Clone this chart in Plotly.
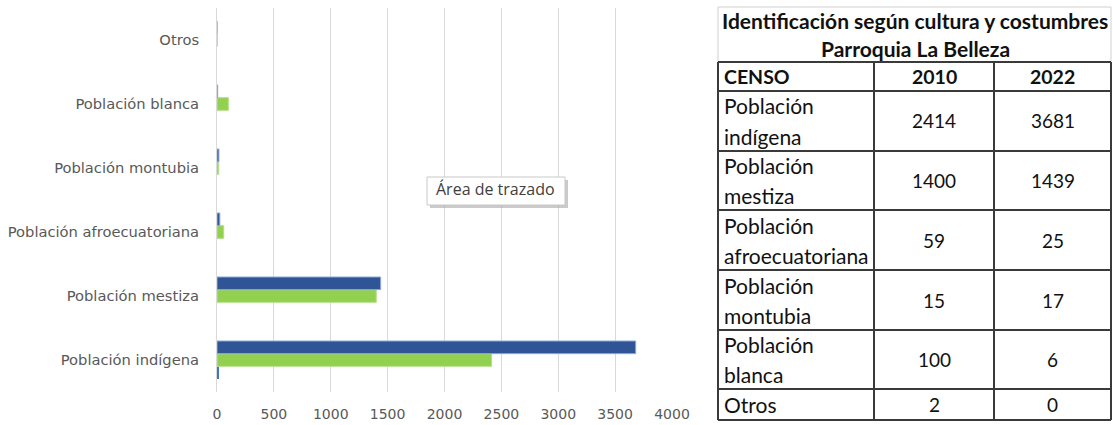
import plotly.graph_objects as go

# Census categories (bottom to top on the bar chart)
categorias = ["Población indígena", "Población mestiza", "Población afroecuatoriana",
              "Población montubia", "Población blanca", "Otros"]
censo_2010 = [2414, 1400, 59, 15, 100, 2]
censo_2022 = [3681, 1439, 25, 17, 6, 0]
serie_extra = [12, 0, 0, 0, 0, 0]

# Table rows (label split over two lines where the cell wraps)
filas_tabla = [("Población", "indígena"), ("Población", "mestiza"),
               ("Población", "afroecuatoriana"), ("Población", "montubia"),
               ("Población", "blanca"), ("Otros", None)]
titulo_tabla = ["Identificación según cultura y costumbres", "Parroquia La Belleza"]
encabezados = ["CENSO", "2010", "2022"]

W, H = 1113, 425


def px(x):
    return x / W


def py(y):
    return 1 - y / H


def note(x, y, text, font, xanchor="center"):
    return dict(xref="paper", yref="paper", x=px(x), y=py(y), xanchor=xanchor,
                yanchor="middle", text=text, showarrow=False, font=font)


fig = go.Figure()
fig.add_trace(go.Bar(y=categorias, x=serie_extra, orientation="h", name="Serie 3",
                     marker=dict(color="#4472C4", line=dict(width=0))))
fig.add_trace(go.Bar(y=categorias, x=censo_2010, orientation="h", name="2010",
                     marker=dict(color="#92D050", line=dict(color="#B5E08A", width=1))))
fig.add_trace(go.Bar(y=categorias, x=censo_2022, orientation="h", name="2022",
                     marker=dict(color="#2F5597", line=dict(color="#8FAADC", width=1))))

cat_font = dict(family="DejaVu Sans, sans-serif", size=14.7, color="#595959")
num_font = dict(family="DejaVu Sans, sans-serif", size=14, color="#595959")

fig.update_layout(
    width=W, height=H, autosize=False,
    margin=dict(l=0, r=0, t=0, b=0, pad=0),
    paper_bgcolor="white", plot_bgcolor="white",
    barmode="group", bargap=0.406, bargroupgap=0,
    showlegend=False,
    xaxis=dict(domain=[px(217), px(672)], range=[0, 4000], dtick=500,
               showgrid=True, gridcolor="#D9D9D9", gridwidth=1,
               zeroline=False, showline=False, ticks="", automargin=False,
               tickfont=num_font, ticklabelstandoff=12, fixedrange=True),
    yaxis=dict(domain=[py(392), py(8)], categoryorder="array", categoryarray=categorias,
               showline=True, linecolor="#D9D9D9", linewidth=1,
               showgrid=False, ticks="", tickfont=cat_font, automargin=False,
               ticklabelstandoff=14, fixedrange=True),
)

shapes = []
annotations = []

# Tooltip box over the plot area
shapes.append(dict(type="rect", xref="paper", yref="paper",
                   x0=px(430), x1=px(568), y0=py(208), y1=py(180),
                   fillcolor="#A6A6A6", line=dict(width=0), opacity=0.6))
shapes.append(dict(type="rect", xref="paper", yref="paper",
                   x0=px(427), x1=px(565), y0=py(205), y1=py(177),
                   fillcolor="white", line=dict(color="#C8C8C8", width=1)))
annotations.append(note(495, 189, "Área de trazado",
                        dict(family="Open Sans, sans-serif", size=16, color="#404040")))

# Table grid
x0, c1, c2, x3 = 718, 874, 994, 1111
thin = dict(color="#D0D0D0", width=1)
dark = dict(color="#3A3A3A", width=2)
shapes += [
    dict(type="line", xref="paper", yref="paper", x0=px(x0), x1=px(x3), y0=py(7), y1=py(7), line=thin),
    dict(type="line", xref="paper", yref="paper", x0=px(x0), x1=px(x0), y0=py(7), y1=py(62), line=thin),
    dict(type="line", xref="paper", yref="paper", x0=px(x3), x1=px(x3), y0=py(7), y1=py(62), line=thin),
]
row_lines = [62, 91, 151, 210, 270, 330, 389, 420]
for y in row_lines:
    shapes.append(dict(type="line", xref="paper", yref="paper",
                       x0=px(x0), x1=px(x3), y0=py(y), y1=py(y), line=dark))
for x in (x0, c1, c2, x3):
    shapes.append(dict(type="line", xref="paper", yref="paper",
                       x0=px(x), x1=px(x), y0=py(62), y1=py(420), line=dark))

tfont = dict(family="Lato, sans-serif", size=21, color="#111111")
hfont = dict(family="Lato, sans-serif", size=19.5, color="#111111")

annotations.append(note(915, 20, "<b>" + titulo_tabla[0] + "</b>", tfont))
annotations.append(note(915, 49, "<b>" + titulo_tabla[1] + "</b>", tfont))
annotations.append(note(722, 77, "<b>" + encabezados[0] + "</b>", hfont, "left"))
annotations.append(note((c1 + c2) / 2, 77, "<b>" + encabezados[1] + "</b>", hfont))
annotations.append(note((c2 + x3) / 2, 77, "<b>" + encabezados[2] + "</b>", hfont))

rfont = dict(family="Lato, sans-serif", size=21, color="#111111")
nfont = dict(family="Lato, sans-serif", size=19, color="#111111")
for i, (l1, l2) in enumerate(filas_tabla):
    top, bot = row_lines[i + 1], row_lines[i + 2]
    mid = (top + bot) / 2
    if l2 is None:
        annotations.append(note(722, mid, l1, rfont, "left"))
    else:
        annotations.append(note(722, mid - 15, l1, rfont, "left"))
        annotations.append(note(722, mid + 15, l2, rfont, "left"))
    annotations.append(note((c1 + c2) / 2, mid, str(censo_2010[i]), nfont))
    annotations.append(note((c2 + x3) / 2, mid, str(censo_2022[i]), nfont))

fig.update_layout(shapes=shapes, annotations=annotations)
fig.write_html("out.html", config={"responsive": False, "displayModeBar": False},
               post_script="document.body.style.margin='0';document.body.style.overflow='hidden';")
